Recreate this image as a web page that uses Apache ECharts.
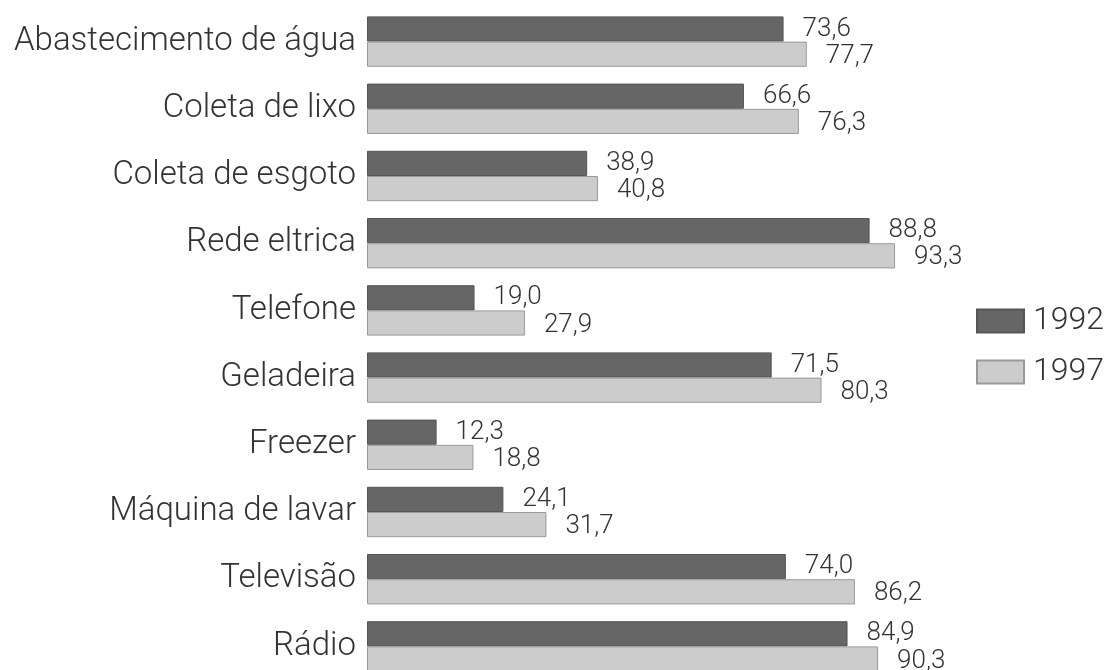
<!DOCTYPE html>
<html>
<head>
<meta charset="utf-8">
<script src="https://cdn.jsdelivr.net/npm/echarts@6/dist/echarts.min.js"></script>
<style>
  html, body { margin: 0; padding: 0; background: #fff; overflow: hidden; }
  #main { width: 1108px; height: 680px; }
</style>
</head>
<body>
<div id="main"></div>
<script>
// categorias, de cima para baixo
var categorias = ['Abastecimento de água', 'Coleta de lixo', 'Coleta de esgoto', 'Rede eltrica', 'Telefone',
  'Geladeira', 'Freezer', 'Máquina de lavar', 'Televisão', 'Rádio'];
var anos = ['1992', '1997'];
var valores1992 = [73.6, 66.6, 38.9, 88.8, 19.0, 71.5, 12.3, 24.1, 74.0, 84.9];
var valores1997 = [77.7, 76.3, 40.8, 93.3, 27.9, 80.3, 18.8, 31.7, 86.2, 90.3];

var fonte = 'Roboto, "Liberation Sans", sans-serif';
var chart = echarts.init(document.getElementById('main'));

function rotulo(offsetY) {
  return {
    show: true,
    position: 'right',
    distance: 19,
    offset: [0, offsetY],
    color: '#333',
    fontFamily: fonte,
    fontWeight: 300,
    fontSize: 26,
    formatter: function (p) { return p.value.toFixed(1).replace('.', ','); }
  };
}

chart.setOption({
  animation: false,
  backgroundColor: '#fff',
  grid: { left: 367, right: 175, top: 8, bottom: 0 },
  legend: {
    orient: 'vertical',
    left: 971,
    top: 300,
    itemWidth: 47,
    itemHeight: 23,
    itemGap: 19,
    icon: 'rect',
    textStyle: { color: '#333', fontFamily: fonte, fontWeight: 300, fontSize: 32, padding: [0, 0, 0, 4] },
    data: anos
  },
  xAxis: {
    type: 'value',
    min: 0,
    max: 100,
    show: false
  },
  yAxis: {
    type: 'category',
    inverse: true,
    data: categorias,
    axisLine: { show: false },
    axisTick: { show: false },
    axisLabel: { color: '#333', fontFamily: fonte, fontWeight: 300, fontSize: 33, margin: 11 }
  },
  series: [
    {
      name: anos[0],
      type: 'bar',
      data: valores1992,
      barGap: '0%',
      barCategoryGap: '25%',
      itemStyle: { color: '#666666', borderColor: '#555', borderWidth: 1 },
      label: rotulo(0)
    },
    {
      name: anos[1],
      type: 'bar',
      data: valores1997,
      itemStyle: { color: '#cccccc', borderColor: '#999', borderWidth: 1 },
      label: rotulo(2)
    }
  ]
});
</script>
</body>
</html>
